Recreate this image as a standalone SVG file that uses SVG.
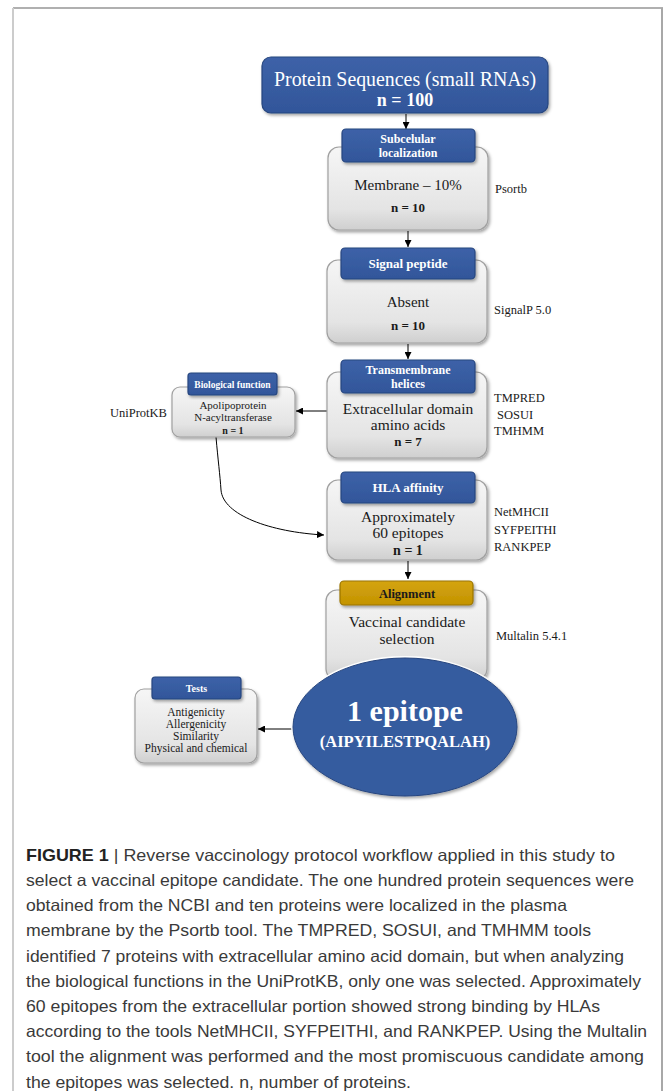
<svg xmlns="http://www.w3.org/2000/svg" width="663" height="1091" viewBox="0 0 663 1091">
<style>
.serif{font-family:"Liberation Serif","Times New Roman",serif}
.hdr{font-family:"Liberation Serif","Times New Roman",serif;font-weight:bold;fill:#ffffff;text-anchor:middle}
.body{font-family:"Liberation Serif","Times New Roman",serif;fill:#1a1a1a;text-anchor:middle}
.lab{font-family:"Liberation Serif","Times New Roman",serif;fill:#1a1a1a;font-size:12.5px}
.cap{font-family:"Liberation Sans",Arial,sans-serif;fill:#3a3a3a;font-size:16.5px}
.gbox{fill:url(#gGray);stroke:#a0a0a0;stroke-width:1.2;filter:url(#sh)}
.bbox{fill:url(#gBlue);stroke:#27467f;stroke-width:1.2;filter:url(#sh)}
.conn{fill:none;stroke:#000;stroke-width:1;marker-end:url(#ah)}
</style>
<defs>
<linearGradient id="gGray" x1="0" y1="0" x2="0" y2="1">
<stop offset="0" stop-color="#f6f6f6"/><stop offset="0.75" stop-color="#e4e4e4"/><stop offset="1" stop-color="#cfcfcf"/>
</linearGradient>
<linearGradient id="gBlue" x1="0" y1="0" x2="0" y2="1">
<stop offset="0" stop-color="#3d62a8"/><stop offset="1" stop-color="#32569a"/>
</linearGradient>
<linearGradient id="gGold" x1="0" y1="0" x2="0" y2="1">
<stop offset="0" stop-color="#d4a412"/><stop offset="1" stop-color="#c39300"/>
</linearGradient>
<filter id="sh" x="-10%" y="-10%" width="125%" height="130%">
<feDropShadow dx="1.5" dy="2" stdDeviation="1.5" flood-color="#000" flood-opacity="0.35"/>
</filter>
<marker id="ah" viewBox="0 0 10 10" refX="10" refY="5" markerWidth="7" markerHeight="7" orient="auto" markerUnits="userSpaceOnUse">
<path d="M0,0 L10,5 L0,10 z" fill="#000"/>
</marker>
</defs>
<rect width="663" height="1091" fill="#ffffff"/>
<g id="frame" fill="none" stroke-width="2">
<line x1="13" y1="8" x2="663" y2="8" stroke="#b0b0b0"/>
<line x1="13" y1="8" x2="13" y2="1091" stroke="#cccccc"/>
<line x1="662" y1="8" x2="662" y2="1091" stroke="#a8a8a8"/>
</g>

<g id="connectors">
<line class="conn" x1="406" y1="114" x2="406" y2="129"/>
<line class="conn" x1="408" y1="231" x2="408" y2="247"/>
<line class="conn" x1="408" y1="344" x2="408" y2="359"/>
<line class="conn" x1="327" y1="411" x2="296" y2="411"/>
<path class="conn" d="M216,437 C218,460 220,475 221,490 C223,515 270,532 324,535"/>
<line class="conn" x1="408" y1="561" x2="408" y2="579"/>
<line class="conn" x1="292" y1="729" x2="258" y2="729"/>
</g>

<g id="node-proteins">
<rect class="bbox" x="262" y="57" width="286" height="56" rx="9"/>
<text class="serif" x="405" y="86" font-size="21" fill="#fff" text-anchor="middle" textLength="262" lengthAdjust="spacingAndGlyphs">Protein Sequences (small RNAs)</text>
<text class="hdr" x="405" y="106" font-size="18">n = 100</text>
</g>

<g id="node-subcellular">
<rect class="gbox" x="328" y="147" width="160" height="83" rx="11"/>
<rect class="bbox" x="342" y="129" width="133" height="33" rx="4"/>
<text class="hdr" x="408" y="143" font-size="12">Subcelular</text>
<text class="hdr" x="408" y="157" font-size="12">localization</text>
<text class="body" x="408" y="190" font-size="15">Membrane – 10%</text>
<text class="body" x="408" y="212" font-size="13" font-weight="bold">n = 10</text>
<text class="lab" x="495" y="193">Psortb</text>
</g>

<g id="node-signal">
<rect class="gbox" x="327" y="260" width="160" height="83" rx="11"/>
<rect class="bbox" x="341" y="248" width="134" height="31" rx="4"/>
<text class="hdr" x="408" y="268" font-size="13">Signal peptide</text>
<text class="body" x="408" y="307" font-size="15">Absent</text>
<text class="body" x="408" y="330" font-size="13" font-weight="bold">n = 10</text>
<text class="lab" x="494" y="314">SignalP 5.0</text>
</g>

<g id="node-transmembrane">
<rect class="gbox" x="327" y="372" width="160" height="86" rx="11"/>
<rect class="bbox" x="341" y="360" width="134" height="33" rx="4"/>
<text class="hdr" x="408" y="374" font-size="12">Transmembrane</text>
<text class="hdr" x="408" y="388" font-size="12">helices</text>
<text class="body" x="408" y="414" font-size="15.5">Extracellular domain</text>
<text class="body" x="408" y="430" font-size="15.5">amino acids</text>
<text class="body" x="408" y="446" font-size="13" font-weight="bold">n = 7</text>
<text class="lab" x="494" y="402">TMPRED</text>
<text class="lab" x="497" y="419">SOSUI</text>
<text class="lab" x="494" y="435">TMHMM</text>
</g>

<g id="node-biological">
<rect class="gbox" x="172" y="387" width="123" height="50" rx="8"/>
<rect class="bbox" x="188" y="373" width="89" height="22" rx="3"/>
<text class="hdr" x="232.5" y="388" font-size="9.5">Biological function</text>
<text class="body" x="233" y="409" font-size="11">Apolipoprotein</text>
<text class="body" x="233" y="421" font-size="11">N-acyltransferase</text>
<text class="body" x="233" y="434" font-size="10" font-weight="bold">n = 1</text>
<text class="lab" x="110" y="417">UniProtKB</text>
</g>

<g id="node-hla">
<rect class="gbox" x="327" y="480" width="160" height="80" rx="11"/>
<rect class="bbox" x="341" y="472" width="134" height="31" rx="4"/>
<text class="hdr" x="408" y="492" font-size="13">HLA affinity</text>
<text class="body" x="408" y="522" font-size="15.5">Approximately</text>
<text class="body" x="408" y="538" font-size="15.5">60 epitopes</text>
<text class="body" x="408" y="555" font-size="14" font-weight="bold">n = 1</text>
<text class="lab" x="494" y="516">NetMHCII</text>
<text class="lab" x="494" y="534">SYFPEITHI</text>
<text class="lab" x="494" y="551">RANKPEP</text>
</g>

<g id="node-alignment">
<rect class="gbox" x="326" y="590" width="161" height="90" rx="11"/>
<rect x="340" y="581" width="133" height="24" rx="4" fill="url(#gGold)" stroke="#9a7400" stroke-width="1.2" filter="url(#sh)"/>
<text class="body" x="407" y="598" font-size="12.5" font-weight="bold">Alignment</text>
<text class="body" x="407" y="627" font-size="15.5">Vaccinal candidate</text>
<text class="body" x="407" y="644" font-size="15.5">selection</text>
<text class="lab" x="496" y="640">Multalin 5.4.1</text>
</g>

<g id="node-epitope">
<ellipse cx="405" cy="727" rx="114" ry="71" fill="#ffffff"/>
<ellipse cx="405" cy="727" rx="112" ry="69" fill="#365c9f" stroke="#27467f" stroke-width="1" filter="url(#sh)"/>
<text class="hdr" x="405" y="721" font-size="30">1 epitope</text>
<text class="hdr" x="405" y="747" font-size="16.5">(AIPYILESTPQALAH)</text>
</g>

<g id="node-tests">
<rect class="gbox" x="135" y="689" width="122" height="74" rx="9"/>
<rect class="bbox" x="152" y="677" width="89" height="22" rx="3"/>
<text class="hdr" x="196.5" y="692" font-size="10">Tests</text>
<text class="body" x="196" y="716" font-size="11.5">Antigenicity</text>
<text class="body" x="196" y="728" font-size="11.5">Allergenicity</text>
<text class="body" x="196" y="740" font-size="11.5">Similarity</text>
<text class="body" x="196" y="752" font-size="11.5">Physical and chemical</text>
</g>

<g id="caption">
<text class="cap" x="26" y="861" textLength="589" lengthAdjust="spacingAndGlyphs"><tspan font-weight="bold" fill="#222">FIGURE 1</tspan> | Reverse vaccinology protocol workflow applied in this study to</text>
<text class="cap" x="26" y="886" textLength="608" lengthAdjust="spacingAndGlyphs">select a vaccinal epitope candidate. The one hundred protein sequences were</text>
<text class="cap" x="26" y="911" textLength="541" lengthAdjust="spacingAndGlyphs">obtained from the NCBI and ten proteins were localized in the plasma</text>
<text class="cap" x="26" y="936" textLength="565" lengthAdjust="spacingAndGlyphs">membrane by the Psortb tool. The TMPRED, SOSUI, and TMHMM tools</text>
<text class="cap" x="26" y="962" textLength="598" lengthAdjust="spacingAndGlyphs">identified 7 proteins with extracellular amino acid domain, but when analyzing</text>
<text class="cap" x="26" y="987" textLength="615" lengthAdjust="spacingAndGlyphs">the biological functions in the UniProtKB, only one was selected. Approximately</text>
<text class="cap" x="26" y="1012" textLength="574" lengthAdjust="spacingAndGlyphs">60 epitopes from the extracellular portion showed strong binding by HLAs</text>
<text class="cap" x="26" y="1037" textLength="621" lengthAdjust="spacingAndGlyphs">according to the tools NetMHCII, SYFPEITHI, and RANKPEP. Using the Multalin</text>
<text class="cap" x="26" y="1062" textLength="618" lengthAdjust="spacingAndGlyphs">tool the alignment was performed and the most promiscuous candidate among</text>
<text class="cap" x="26" y="1088" textLength="385" lengthAdjust="spacingAndGlyphs">the epitopes was selected. n, number of proteins.</text>
</g>
</svg>
